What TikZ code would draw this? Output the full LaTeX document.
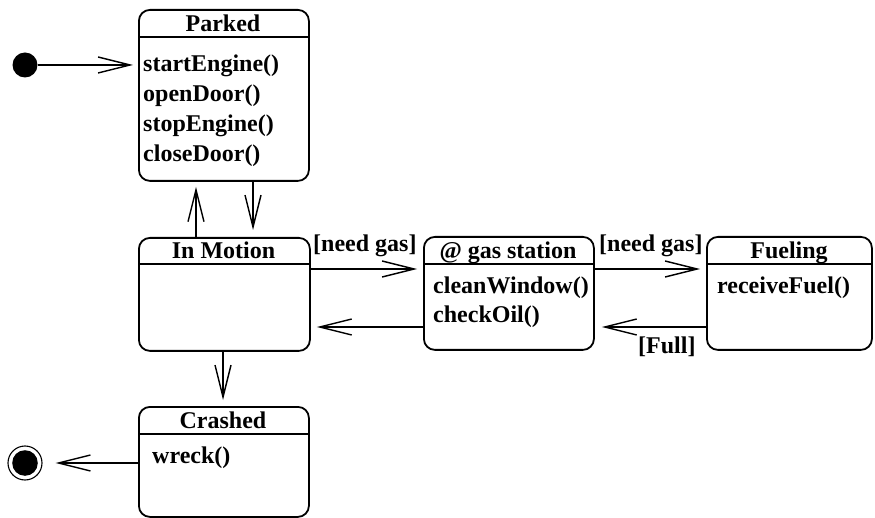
\documentclass[tikz,border=0pt]{standalone}
\usepackage{fontspec}
\setmainfont{Liberation Serif}
\usetikzlibrary{arrows.meta}
\begin{document}
\begin{tikzpicture}[x=1pt,y=-1pt,
  state/.style={draw, line width=1.8pt, rounded corners=11pt, anchor=north west, inner sep=0pt},
  sepline/.style={line width=1.3pt},
  txt/.style={font=\fontsize{24}{28}\selectfont\bfseries, inner sep=0pt},
  title/.style={txt, anchor=base},
  item/.style={txt, anchor=base west},
  arr/.style={line width=1.4pt, shorten >=6pt, -{Straight Barb[length=32pt,width=16pt,line width=1.4pt]}}
]
\useasboundingbox (0,0) rectangle (875,518);

% states
\node[state, minimum width=170pt, minimum height=171pt] (parked) at (138,9) {};
\node[state, minimum width=171pt, minimum height=113pt] (im) at (138,237) {};
\node[state, minimum width=170pt, minimum height=113pt] (gas) at (423,236) {};
\node[state, minimum width=165pt, minimum height=113pt] (fuel) at (706,236) {};
\node[state, minimum width=170pt, minimum height=110pt] (crash) at (138,406) {};

% compartment lines
\coordinate (h1) at (0,37);
\coordinate (h2) at (0,264);
\coordinate (h3) at (0,434);
\draw[sepline] (parked.west |- h1) -- (parked.east |- h1);
\draw[sepline] (im.west |- h2) -- (im.east |- h2);
\draw[sepline] (gas.west |- h2) -- (gas.east |- h2);
\draw[sepline] (fuel.west |- h2) -- (fuel.east |- h2);
\draw[sepline] (crash.west |- h3) -- (crash.east |- h3);

% titles
\node[title] (tparked) at (223,32) {Parked};
\node[title] (tim) at (223.5,259) {In Motion};
\node[title] (tgas) at (508,259) {@ gas station};
\node[title] (tfuel) at (789,259) {Fueling};
\node[title] (tcrash) at (223,428) {Crashed};

% items
\node[item] (p1) at (143,72) {startEngine()};
\node[item] (p2) at (143,102) {openDoor()};
\node[item] (p3) at (143,132) {stopEngine()};
\node[item] (p4) at (143,162) {closeDoor()};
\node[item] (g1) at (433,294) {cleanWindow()};
\node[item] (g2) at (433,323) {checkOil()};
\node[item] (f1) at (717,294) {receiveFuel()};
\node[item] (c1) at (152,463) {wreck()};

% pseudo states
\node[circle, fill, inner sep=0pt, minimum size=25pt] (init) at (25,65) {};
\node[circle, draw, line width=1.1pt, inner sep=0pt, minimum size=34pt] (final) at (25,463) {};
\fill (final.center) circle (12.8pt);

% transitions
\coordinate (xu) at (196,0);
\coordinate (xd) at (253,0);
\coordinate (xc) at (223,0);
\coordinate (ya) at (0,269);
\coordinate (yb) at (0,327);
\draw[arr, shorten >=5pt] (init) -- (init -| parked.west);
\draw[arr, shorten >=5pt] (im.north -| xu) -- (parked.south -| xu);
\draw[arr, shorten >=7pt] (parked.south -| xd) -- (im.north -| xd);
\draw[arr] (im.east |- ya) -- (gas.west |- ya);
\draw[arr] (gas.west |- yb) -- (im.east |- yb);
\draw[arr] (gas.east |- ya) -- (fuel.west |- ya);
\draw[arr, shorten >=7pt] (fuel.west |- yb) -- (gas.east |- yb);
\draw[arr] (im.south -| xc) -- (crash.north -| xc);
\draw[arr, shorten >=13pt] (crash.west |- final) -- (final.east);

% guards
\node[txt, anchor=base west] (l1) at (313,252) {[need gas]};
\node[txt, anchor=base west] (l2) at (599,252) {[need gas]};
\node[txt, anchor=base west] (l3) at (638,353) {[Full]};
\end{tikzpicture}
\end{document}
